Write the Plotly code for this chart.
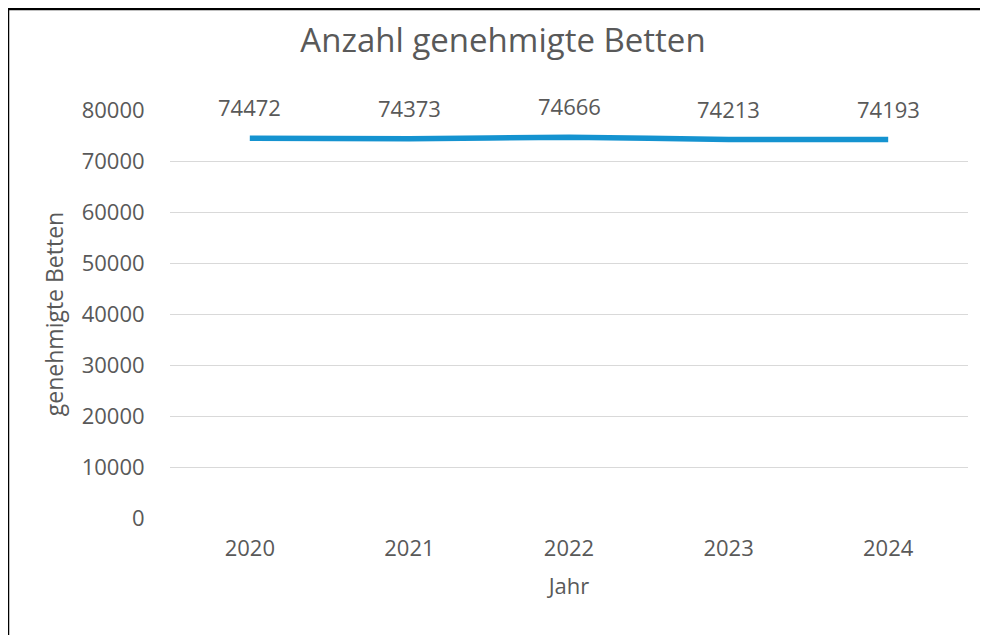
import plotly.graph_objects as go

years = ["2020", "2021", "2022", "2023", "2024"]
betten = [74472, 74373, 74666, 74213, 74193]
y_ticks = [0, 10000, 20000, 30000, 40000, 50000, 60000, 70000, 80000]

FONT = "Open Sans"
GREY = "#595959"

# page body has an 8px margin, so the figure is laid out 8px up/left
W, H = 980, 627
L, R, T, B = 162, 980 - 960, 102, 627 - 510
PW, PH = W - L - R, H - T - B

fig = go.Figure()
fig.add_trace(go.Scatter(
    x=years, y=betten, mode="lines",
    line=dict(color="#1593d0", width=5.5, shape="spline", smoothing=0.6),
    hoverinfo="x+y", showlegend=False,
))

for i, v in enumerate(betten):
    fig.add_annotation(x=i, y=v, text=str(v), showarrow=False,
                       yshift=31, font=dict(family=FONT, size=22, color=GREY))

# outer frame (top and left edges visible)
top_y = (H - B - 1) / PH
left_x = (0 - L) / PW
fig.add_shape(type="line", xref="paper", yref="paper",
              x0=left_x, x1=(W + 5 - L) / PW, y0=top_y, y1=top_y,
              line=dict(color="black", width=2.5))
fig.add_shape(type="line", xref="paper", yref="paper",
              x0=left_x, x1=left_x, y0=top_y, y1=-(B + 5) / PH,
              line=dict(color="black", width=2.5))

fig.update_layout(
    width=W, height=H,
    paper_bgcolor="white", plot_bgcolor="white",
    margin=dict(l=L, r=R, t=T, b=B, autoexpand=False),
    title=dict(text="Anzahl genehmigte Betten", x=495 / W, xanchor="center",
               y=1 - 32 / H, yanchor="middle",
               font=dict(family=FONT, size=33, color=GREY)),
    font=dict(family=FONT, color=GREY),
)
fig.update_xaxes(
    type="category", range=[-0.5, 4.5], showgrid=False, showline=False, zeroline=False,
    ticks="outside", ticklen=11, tickcolor="rgba(0,0,0,0)",
    tickfont=dict(family=FONT, size=22, color=GREY),
    title=dict(text="Jahr", font=dict(family=FONT, size=22, color=GREY), standoff=17),
)
fig.update_yaxes(
    range=[0, 80000], tickvals=y_ticks, ticktext=[str(t) for t in y_ticks],
    showgrid=True, gridcolor="#d9d9d9", gridwidth=1.3,
    zeroline=False, showline=False,
    ticks="outside", ticklen=20, tickcolor="rgba(0,0,0,0)",
    tickfont=dict(family=FONT, size=22, color=GREY),
    title=dict(text="genehmigte Betten", font=dict(family=FONT, size=23, color=GREY), standoff=11),
)

fig.write_html("out.html")
